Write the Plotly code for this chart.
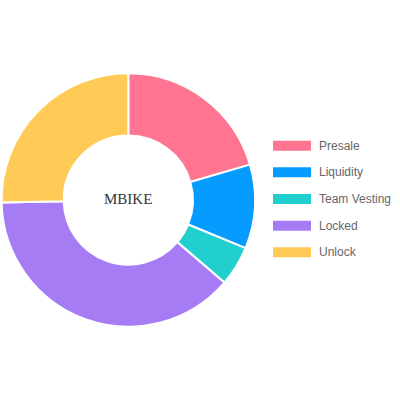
import plotly.graph_objects as go

categories = ["Presale", "Liquidity", "Team Vesting", "Locked", "Unlock"]
values = [20.5, 10.7, 5.1, 38.4, 25.3]
colors = ["#FF7591", "#059BFF", "#22CFCF", "#A67CF5", "#FFCA56"]
center_label = "MBIKE"

W = H = 400
fig = go.Figure()
fig.add_trace(go.Pie(
    labels=categories, values=values, sort=False, direction="clockwise", rotation=0,
    hole=0.51, textinfo="none", hoverinfo="label+value",
    marker=dict(colors=colors, line=dict(color="white", width=2)),
    domain=dict(x=[1.6 / W, 255 / W], y=[(H - 326.7) / H, (H - 73.3) / H]),
    showlegend=False,
))

shapes = []
annotations = []
row0, step = 145.7, 26.65
for i, (cat, col) in enumerate(zip(categories, colors)):
    yc = row0 + i * step
    shapes.append(dict(type="rect", xref="paper", yref="paper",
                       x0=273 / W, x1=311 / W, y0=(H - yc - 5) / H, y1=(H - yc + 5) / H,
                       fillcolor=col, line=dict(width=0)))
    annotations.append(dict(text=cat, xref="paper", yref="paper", x=316.5 / W, y=(H - yc) / H,
                            xanchor="left", yanchor="middle", showarrow=False,
                            font=dict(family="Liberation Sans, Arial", size=12, color="#666666")))

annotations.append(dict(text=center_label, xref="paper", yref="paper", x=128.3 / W, y=(H - 199) / H,
                        xanchor="center", yanchor="middle", showarrow=False,
                        font=dict(family="Liberation Serif, Times New Roman", size=15, color="#333333")))

fig.update_layout(width=W, height=H, margin=dict(l=0, r=0, t=0, b=0),
                  paper_bgcolor="white", plot_bgcolor="white",
                  shapes=shapes, annotations=annotations)
fig.write_html("out.html", config={"displayModeBar": False},
               post_script="document.body.style.margin='0';document.body.style.overflow='hidden';")
